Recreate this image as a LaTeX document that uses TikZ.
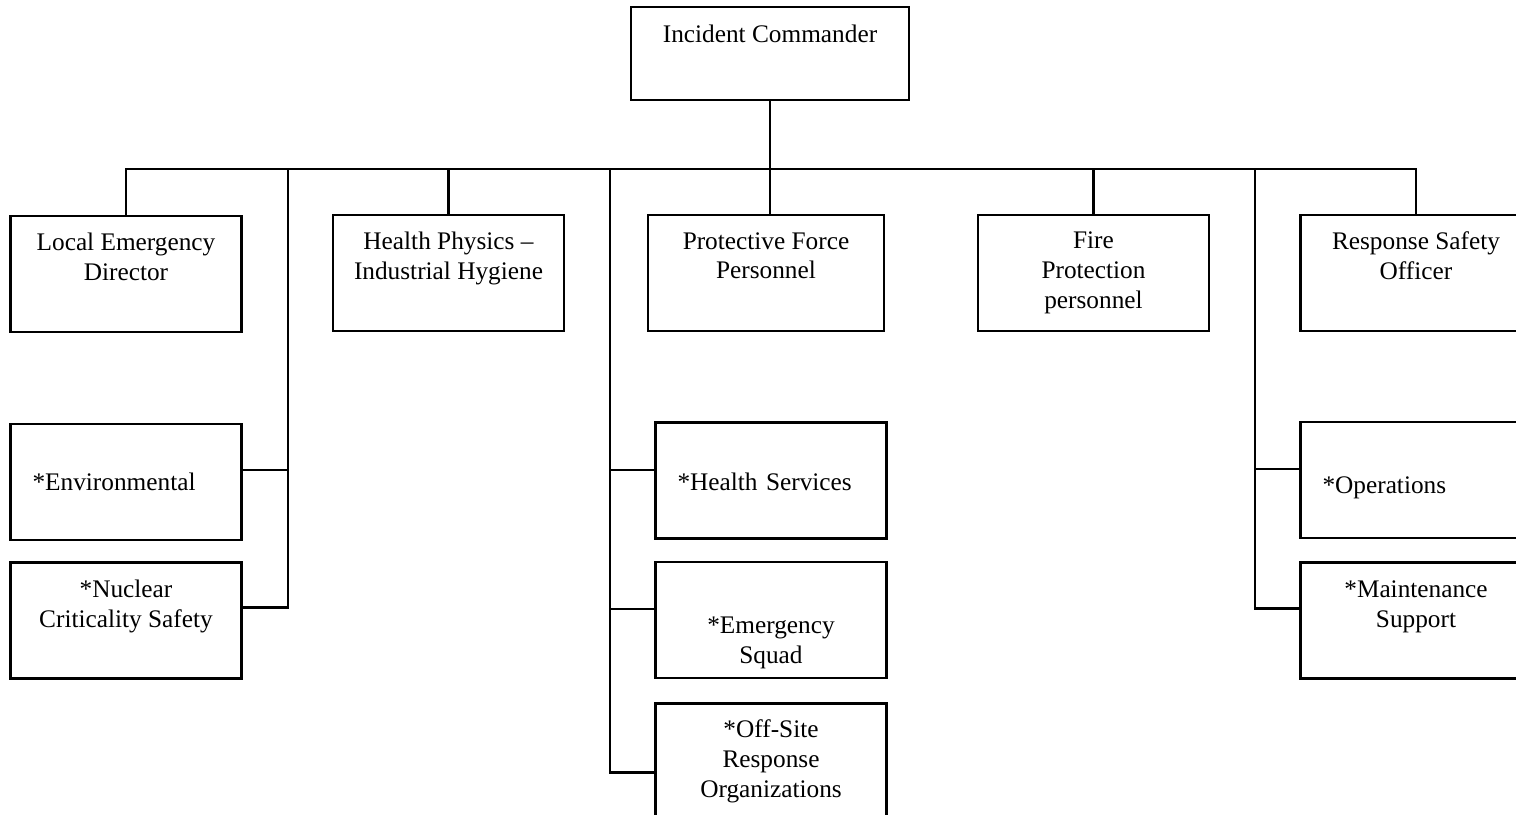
\documentclass[tikz,border=0pt]{standalone}
\usepackage{fontspec}
\setmainfont{Liberation Serif}
\usepackage{tikz}
\usetikzlibrary{positioning}

\begin{document}
\begin{tikzpicture}[
    x=0.02cm, y=-0.02cm,
    line width=1.4pt,
    orgbox/.style={rectangle, draw, minimum width=4.62cm, minimum height=2.32cm, align=center, inner sep=0pt, font=\fontsize{14.4}{17}\selectfont},
    leftbox/.style={orgbox, align=left, text width=3.74cm},
    headbox/.style={orgbox, minimum width=5.56cm, minimum height=1.86cm}
]
\useasboundingbox (0,0) rectangle (1516,815);
\clip (0,0) rectangle (1516,815);

% Top
\node[headbox] (ic) at (770,53.5) {Incident Commander\\\strut};

% First row
\node[orgbox] (led) at (126,274) {Local Emergency\\Director\\[-0.08cm]\strut};
\node[orgbox] (hp) at (448.5,273) {Health Physics --\\Industrial Hygiene\\[-0.08cm]\strut};
\node[orgbox, minimum width=4.72cm] (pf) at (766,273) {Protective Force\\Personnel\\[-0.08cm]\strut};
\node[orgbox] (fp) at (1093.5,273) {Fire\\Protection\\personnel};
\node[orgbox] (rso) at (1416,273) {Response Safety\\Officer\\[-0.08cm]\strut};

% Staff under the spines
\node[leftbox] (env) at (126,482) {*Environmental};
\node[orgbox, below=0.40cm of env] (ncs) {*Nuclear\\Criticality Safety\\[-0.12cm]\strut};
\node[leftbox, text height=0.5cm, text depth=0.11cm] (hs) at (771,480.5) {*Health Services};
\node[orgbox, below=0.42cm of hs] (es) {\strut\\[0.24cm]*Emergency\\Squad};
\node[orgbox, below=0.46cm of es] (os) {*Off-Site\\Response\\Organizations};
\node[leftbox, text height=0.63cm, text depth=0.11cm] (ops) at (1416,480) {*Operations};
\node[orgbox, below=0.44cm of ops] (ms) {*Maintenance\\Support\\[-0.12cm]\strut};

% Bus and drops
\coordinate (bus) at (770,169);
\coordinate (spl) at (288,169);
\coordinate (spm) at (610,169);
\coordinate (spr) at (1255,169);
\draw (ic.south) -- (ic.south |- pf.north);
\draw (led.north) |- (bus) -| (rso.north);
\draw (hp.north) -- (hp.north |- bus);
\draw (fp.north) -- (fp.north |- bus);

% Tie points, a little above the box middles
\coordinate (envt) at ([yshift=0.24cm]env.east);
\coordinate (ncst) at ([yshift=0.26cm]ncs.east);
\coordinate (hst) at ([yshift=0.21cm]hs.west);
\coordinate (est) at ([yshift=0.22cm]es.west);
\coordinate (ost) at ([yshift=-0.22cm]os.west);
\coordinate (opst) at ([yshift=0.22cm]ops.west);
\coordinate (mst) at ([yshift=0.24cm]ms.west);

% Spines
\draw (spl) |- (ncst);
\draw (envt) -- (envt -| spl);
\draw (spm) |- (ost);
\draw (hst) -- (hst -| spm);
\draw (est) -- (est -| spm);
\draw (spr) |- (mst);
\draw (opst) -- (opst -| spr);

\end{tikzpicture}
\end{document}
